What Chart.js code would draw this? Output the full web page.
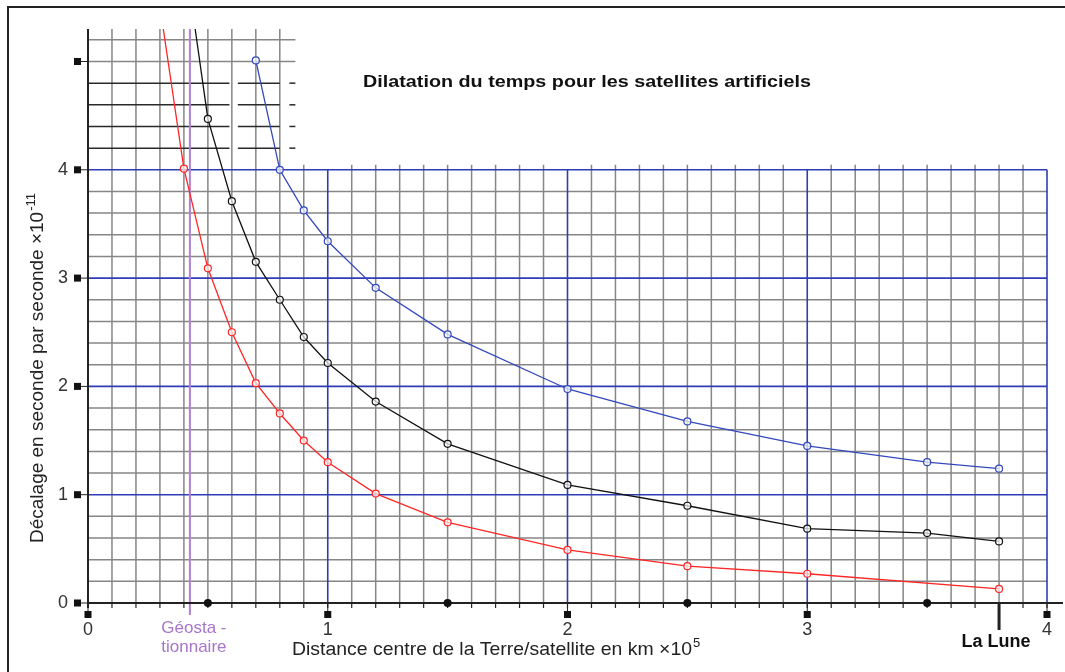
<!DOCTYPE html>
<html>
<head>
<meta charset="utf-8">
<script src="https://cdn.jsdelivr.net/npm/chart.js@4.4.1/dist/chart.umd.min.js"></script>
<style>
    html, body { margin: 0; padding: 0; background: #fff; overflow: hidden; }
    #wrap { position: relative; width: 1065px; height: 672px; overflow: hidden; }
    #frame { position: absolute; left: 7px; top: 6px; width: 1100px; height: 700px; border: 2px solid #222; }
    canvas { position: absolute; left: 0; top: 0; }
</style>
</head>
<body>
<div id="wrap">
    <div id="frame"></div>
    <canvas id="chart" width="1065" height="672"></canvas>
</div>
<script>
// distance (x10^5 km) / time shift (x10^-11 s per s)
// first point of red and black is where the curve leaves the top of the grid
const redX   = [0.314, 0.4, 0.5, 0.6, 0.7, 0.8, 0.9, 1.0, 1.2, 1.5, 2.0, 2.5, 3.0, 3.8];
const redY   = [5.3, 4.01, 3.09, 2.50, 2.03, 1.75, 1.50, 1.30, 1.01, 0.745, 0.49, 0.34, 0.27, 0.13];
const blackX = [0.447, 0.5, 0.6, 0.7, 0.8, 0.9, 1.0, 1.2, 1.5, 2.0, 2.5, 3.0, 3.5, 3.8];
const blackY = [5.3, 4.47, 3.71, 3.15, 2.80, 2.456, 2.216, 1.86, 1.47, 1.09, 0.898, 0.686, 0.646, 0.569];
const blueX  = [0.7, 0.8, 0.9, 1.0, 1.2, 1.5, 2.0, 2.5, 3.0, 3.5, 3.8];
const blueY  = [5.01, 4.0, 3.625, 3.34, 2.91, 2.48, 1.976, 1.677, 1.45, 1.30, 1.24];

const xTickLabels = ['0', '1', '2', '3', '4'];
const yTickLabels = ['0', '1', '2', '3', '4'];
const geoDistance = 0.425;
const moonDistance = 3.8;

const toPoints = (xs, ys) => xs.map((v, i) => ({ x: v, y: ys[i] }));

const FONT = '"Liberation Sans", Arial, sans-serif';

// text squeezed/stretched to a given width
function fitText(ctx, text, x, y, width) {
    const w = ctx.measureText(text).width;
    ctx.save();
    ctx.translate(x, y);
    ctx.scale(width / w, 1);
    ctx.fillText(text, 0, 0);
    ctx.restore();
}

// graph paper, axes and small markers, drawn from the scales
const paperPlugin = {
    id: 'paper',
    beforeDatasetsDraw(chart) {
        const { ctx, scales: { x, y } } = chart;
        const X = v => x.getPixelForValue(v);
        const Y = v => y.getPixelForValue(v);
        const seg = (x1, y1, x2, y2) => { ctx.beginPath(); ctx.moveTo(x1, y1); ctx.lineTo(x2, y2); ctx.stroke(); };
        ctx.save();

        // fine gray lines
        ctx.strokeStyle = '#868686';
        ctx.lineWidth = 1.5;
        for (let i = 1; i < 40; i++) {
            if (i % 10 === 0) continue;
            const v = i / 10;
            seg(X(v), Y(0), X(v), v <= 0.81 ? Y(y.max) : Y(4) - 5);
        }
        for (let j = 1; j < 20; j++) {
            if (j % 5 === 0) continue;
            seg(X(0), Y(j / 5), X(4), Y(j / 5));
        }
        seg(X(0), Y(5.0), X(0.865), Y(5.0));
        seg(X(0), Y(5.2), X(0.865), Y(5.2));

        // darker broken lines above 4
        ctx.strokeStyle = '#2a2a2a';
        [4.2, 4.4, 4.6, 4.8].forEach(v => {
            seg(X(0), Y(v), X(0.59), Y(v));
            seg(X(0.625), Y(v), X(0.8), Y(v));
            seg(X(0.84), Y(v), X(0.865), Y(v));
        });

        // blue major lines
        ctx.strokeStyle = '#2e3db5';
        ctx.lineWidth = 1.6;
        for (let k = 1; k <= 4; k++) {
            seg(X(0), Y(k), X(4), Y(k));
            seg(X(k), Y(0), X(k), Y(4));
        }

        // geostationary orbit
        ctx.strokeStyle = '#b27fd3';
        ctx.lineWidth = 2;
        seg(X(geoDistance), Y(0) + 12, X(geoDistance), Y(y.max));

        // axes
        ctx.strokeStyle = '#222';
        ctx.lineWidth = 2;
        seg(X(0), Y(0), X(4) + 16, Y(0));
        seg(X(0), Y(0) + 5, X(0), Y(y.max));

        // small ticks under the x axis
        ctx.lineWidth = 1.2;
        for (let i = 1; i <= 40; i++) seg(X(i / 10), Y(0), X(i / 10), Y(0) + 5);

        ctx.fillStyle = '#111';
        ctx.lineWidth = 1;
        for (let k = 0; k <= 4; k++) {
            seg(X(k), Y(0), X(k), Y(0) + 9);
            ctx.fillRect(X(k) - 3.5, Y(0) + 8, 7, 7);
        }
        for (let k = 0.5; k < 4; k += 1) {
            ctx.beginPath();
            ctx.arc(X(k), Y(0), 4, 0, Math.PI * 2);
            ctx.fill();
        }
        for (let k = 0; k <= 5; k++) {
            seg(X(0) - 8, Y(k), X(0), Y(k));
            ctx.fillRect(X(0) - 14, Y(k) - 3.5, 7, 7);
        }

        // moon marker
        ctx.lineWidth = 3;
        seg(X(moonDistance), Y(0), X(moonDistance), Y(0) + 27);
        ctx.restore();
    },
    afterDraw(chart) {
        const { ctx, scales: { x, y } } = chart;
        const X = v => x.getPixelForValue(v);
        const Y = v => y.getPixelForValue(v);
        ctx.save();

        // tick labels
        ctx.fillStyle = '#333';
        ctx.font = '18px ' + FONT;
        ctx.textAlign = 'right';
        ctx.textBaseline = 'middle';
        yTickLabels.forEach(t => ctx.fillText(t, X(0) - 20, Y(Number(t))));
        ctx.textAlign = 'center';
        xTickLabels.forEach(t => ctx.fillText(t, X(Number(t)), Y(0) + 27));

        // title
        ctx.textAlign = 'left';
        ctx.fillStyle = '#111';
        ctx.font = 'bold 17px ' + FONT;
        fitText(ctx, 'Dilatation du temps pour les satellites artificiels', 363, 82, 448);

        // x axis title
        ctx.textBaseline = 'alphabetic';
        ctx.fillStyle = '#222';
        ctx.font = '19px ' + FONT;
        const xt = 'Distance centre de la Terre/satellite en km \u00d710';
        fitText(ctx, xt, 292, 655, 400);
        ctx.font = '13px ' + FONT;
        ctx.fillText('5', 292 + 401, 647);

        // y axis title
        ctx.save();
        ctx.translate(43, 543);
        ctx.rotate(-Math.PI / 2);
        ctx.font = '19px ' + FONT;
        const yt = 'D\u00e9calage en seconde par seconde \u00d710';
        ctx.fillText(yt, 0, 0);
        const yw = ctx.measureText(yt).width;
        ctx.font = '13px ' + FONT;
        ctx.fillText('-11', yw + 1, -8);
        ctx.restore();

        // geostationary label
        ctx.fillStyle = '#a874cc';
        ctx.font = '17px ' + FONT;
        ctx.textAlign = 'center';
        ctx.textBaseline = 'middle';
        ctx.fillText('G\u00e9osta -', X(geoDistance) + 4, 628);
        ctx.fillText('tionnaire', X(geoDistance) + 4, 647);

        // moon label
        ctx.fillStyle = '#111';
        ctx.font = 'bold 18px ' + FONT;
        ctx.fillText('La Lune', X(moonDistance) - 3, 642);
        ctx.restore();
    }
};

const curve = (xs, ys, color, skipFirst) => ({
    data: toPoints(xs, ys),
    borderColor: color,
    borderWidth: 1.3,
    pointBorderColor: color,
    pointBackgroundColor: 'rgba(255,255,255,0.7)',
    pointBorderWidth: 1.2,
    pointRadius: c => (skipFirst && c.dataIndex === 0 ? 0 : 3.5),
    tension: 0,
    fill: false
});

new Chart(document.getElementById('chart').getContext('2d'), {
    type: 'line',
    data: {
        datasets: [
            curve(redX, redY, '#ff2626', true),
            curve(blackX, blackY, '#111111', true),
            curve(blueX, blueY, '#3348bd', false)
        ]
    },
    options: {
        responsive: false,
        animation: false,
        devicePixelRatio: 1,
        layout: { padding: { left: 88, right: 18, top: 29, bottom: 69 } },
        plugins: { legend: { display: false }, tooltip: { enabled: false } },
        scales: {
            x: { type: 'linear', min: 0, max: 4, display: false },
            y: { type: 'linear', min: 0, max: 5.3, display: false }
        }
    },
    plugins: [paperPlugin]
});
</script>
</body>
</html>
